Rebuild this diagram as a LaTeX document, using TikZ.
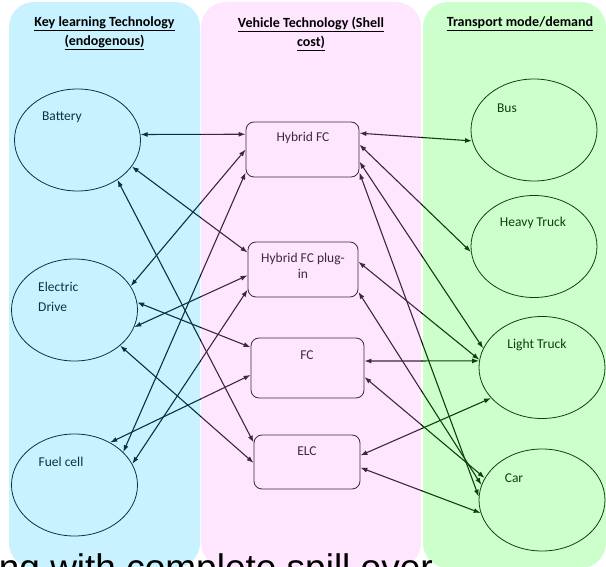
\documentclass[tikz,border=0pt]{standalone}
\usepackage{fontspec}
\setmainfont{Carlito}
\newfontfamily\arialfont{Liberation Sans}
\usetikzlibrary{shapes.geometric,arrows.meta}

\definecolor{keyfill}{RGB}{35,203,255}
\definecolor{vehfill}{RGB}{255,155,255}
\definecolor{modefill}{RGB}{51,255,51}

\tikzset{
  tech/.style={ellipse, draw, line width=.8pt, minimum width=126pt, minimum height=102pt, inner sep=0pt},
  veh/.style={rectangle, draw, line width=.8pt, rounded corners=8pt, inner sep=0pt},
  tag/.style={font=\fontsize{13.5}{20}\selectfont, inner sep=0pt},
  head/.style={font=\bfseries\fontsize{14}{19}\selectfont, align=center, inner sep=0pt},
  panel/.style={rounded corners=25pt, fill opacity=.25}
}

\begin{document}
\begin{tikzpicture}[x=1pt, y=-1pt]
        \useasboundingbox (0,0) rectangle (606,567);

        \begin{scope}[every node/.style={tech}]
          \node (bat)  at (77.5,140) {};
          \node (drv)  at (74.5,310) {};
          \node (cell) at (74.5,485) {};
          \node (bus)  at (534,130) {};
          \node (hvy)  at (534,246.5) {};
          \node (lt)   at (542,367.5) {};
          \node (car)  at (542,500) {};
        \end{scope}

        \begin{scope}[every node/.style={veh}]
          \node[minimum width=113pt, minimum height=55pt] (hfc) at (302.5,149.5) {};
          \node[minimum width=110pt, minimum height=55pt] (hfp) at (303,269.5) {};
          \node[minimum width=113pt, minimum height=60pt] (fc)  at (307.5,368) {};
          \node[minimum width=106pt, minimum height=54pt] (elc) at (307,462) {};
        \end{scope}

        \begin{scope}[every node/.style={tag}]
          \node (batT)  at (62,117) {Battery};
          \node[anchor=west, align=left] (drvT) at (38,297) {Electric\\Drive};
          \node (cellT) at (61,462) {Fuel cell};
          \node (busT)  at (507,108) {Bus};
          \node (hvyT)  at (533,223) {Heavy Truck};
          \node (ltT)   at (537,345) {Light Truck};
          \node (carT)  at (514,478) {Car};
          \node (hfcT)  at (303,138) {Hybrid FC};
          \node[align=center, font=\fontsize{13.5}{16}\selectfont] (hfpT) at (303,266) {Hybrid FC plug-\\in};
          \node (fcT)   at (307,355) {FC};
          \node (elcT)  at (307,451) {ELC};
        \end{scope}

        \begin{scope}[every edge/.style={draw, line width=1.1pt, {Latex[length=7pt,width=5pt]}-{Latex[length=7pt,width=5pt]}}]
          \path (bat.5)    edge (hfc.165);
          \path (bat.-26)  edge (hfp.163);
          \path (bat.-45)  edge (elc.160);
          \path (drv.23)   edge (hfc.180);
          \path (drv.7)    edge (fc.160);
          \path (drv.-16)  edge (hfp.186);
          \path (drv.-38)  edge (elc.181);
          \path (cell.50)  edge (fc.187);
          \path (cell.34)  edge (hfc.202);
          \path (cell.20)  edge (hfp.200);

          \path (hfc.16)   edge (bus.190);
          \path (hfc.5)    edge (hvy.185);
          \path (hfc.-12)  edge (lt.162);
          \path (hfc.-22)  edge (car.177);
          \path (hfp.8)    edge (lt.173);
          \path (hfp.-22)  edge (car.166);
          \path (fc.7)     edge (lt.174);
          \path (fc.-9)    edge (car.159);
          \path (elc.7)    edge (lt.211);
          \path (elc.-6)   edge (car.192);
        \end{scope}

        \fill[panel, keyfill]  (9,2)   rectangle (200,568);
        \fill[panel, vehfill]  (201,2) rectangle (421,568);
        \fill[panel, modefill] (423,2) rectangle (606,568);

        \begin{scope}[every node/.style={head}]
          \node (keyH)  at (104.5,33.5) {\underline{Key learning Technology}\\\underline{(endogenous)}};
          \node (vehH)  at (311,34) {\underline{Vehicle Technology (Shell}\\\underline{cost)}};
          \node (modeH) at (520,24) {\underline{Transport mode/demand}};
        \end{scope}

        \node[font=\arialfont\fontsize{37}{40}\selectfont, anchor=base east, inner sep=0pt] (note) at (433,580) {ng with complete spill over};

      \end{tikzpicture}
\end{document}
